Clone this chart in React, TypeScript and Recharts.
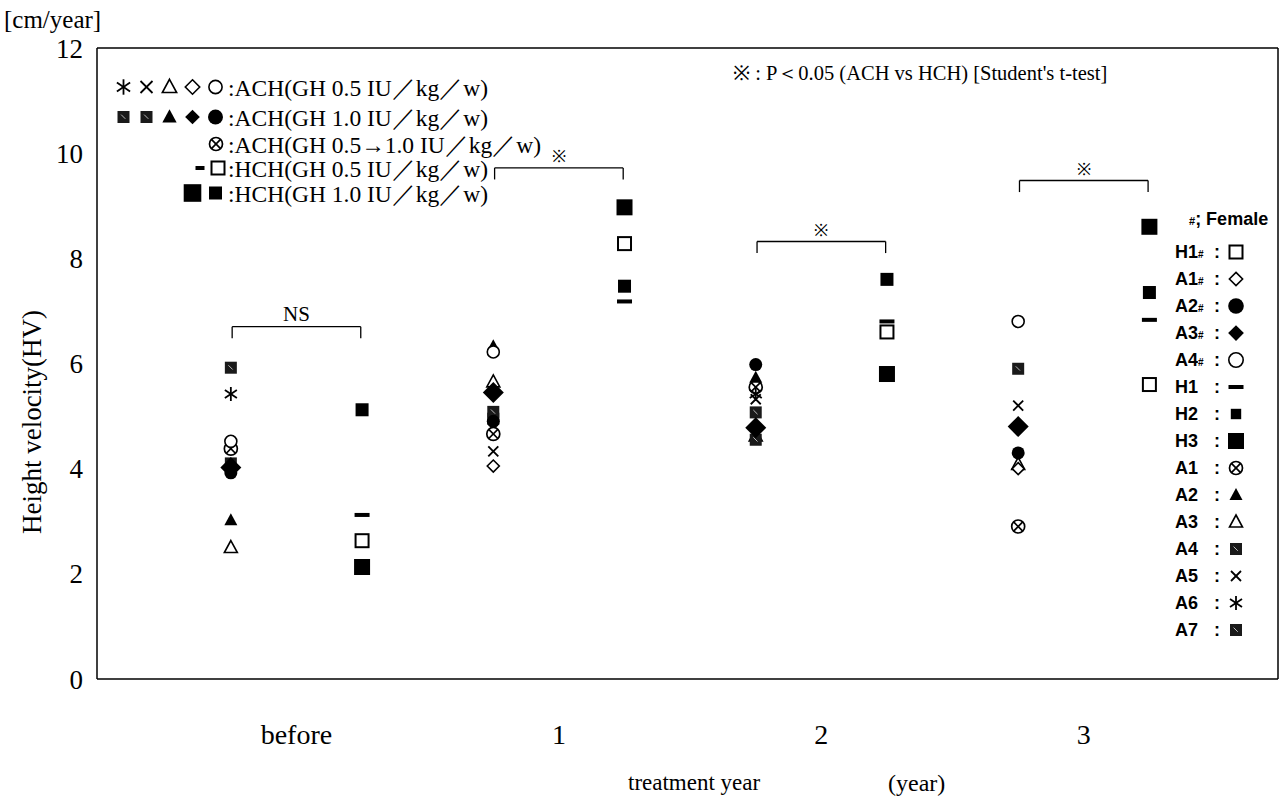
import React from "react";
import { ScatterChart, Scatter, XAxis, YAxis, ReferenceLine, Label } from "recharts";

const SERIF = "'Liberation Serif', 'Times New Roman', serif";
const SANS = "'Liberation Sans', Arial, sans-serif";
const INK = "#000";

const CATEGORIES = ["before", "1", "2", "3"];
const CATEGORY_TICKS = [1, 2, 3, 4];
const Y_TICKS = [0, 2, 4, 6, 8, 10, 12];

// ACH patients, plotted left of each category (values: before, 1, 2, 3 years)
const A1 = [4.38, 4.66, 5.55, 2.9];
const A2 = [3.02, 6.33, 5.73, null];
const A3 = [2.5, 5.65, 4.62, 4.08];
const A4 = [4.1, 4.95, 4.55, null];
const A5 = [null, 4.33, 5.32, 5.2];
const A6 = [5.42, null, 5.42, null];
const A7 = [5.92, 5.08, 5.07, 5.9];
const A1F = [null, 4.05, null, 4.0];
const A2F = [3.92, 4.9, 5.98, 4.3];
const A3F = [4.02, 5.45, 4.78, 4.8];
const A4F = [4.52, 6.22, null, 6.8];

// HCH patients, plotted right of each category
const H1 = [3.12, 7.18, 6.8, 6.83];
const H2 = [5.12, 7.47, 7.6, 7.35];
const H3 = [2.13, 8.97, 5.8, 8.6];
const H1F = [2.63, 8.28, 6.6, 5.6];

const BRACKET_LEVELS = [6.7, 9.72, 8.32, 9.48];
const BRACKET_LABELS = ["NS", "※", "※", "※"];

type Kind =
  | "asterisk" | "cross" | "triOpen" | "triFilled" | "diaOpen" | "diaFilled"
  | "circOpen" | "circFilled" | "otimes" | "hatch" | "sqOpen" | "sqSmall" | "sqBig" | "dash";

function Marker({ kind, cx, cy, scale = 1 }: { kind: Kind; cx: number; cy: number; scale?: number }) {
  const s = scale;
  switch (kind) {
    case "asterisk":
      return (
        <g stroke={INK} strokeWidth={1.8}>
          <line x1={cx} y1={cy - 7 * s} x2={cx} y2={cy + 7 * s} />
          <line x1={cx - 6 * s} y1={cy - 4 * s} x2={cx + 6 * s} y2={cy + 4 * s} />
          <line x1={cx - 6 * s} y1={cy + 4 * s} x2={cx + 6 * s} y2={cy - 4 * s} />
        </g>
      );
    case "cross":
      return (
        <g stroke={INK} strokeWidth={1.8}>
          <line x1={cx - 5 * s} y1={cy - 5 * s} x2={cx + 5 * s} y2={cy + 5 * s} />
          <line x1={cx - 5 * s} y1={cy + 5 * s} x2={cx + 5 * s} y2={cy - 5 * s} />
        </g>
      );
    case "triOpen":
    case "triFilled": {
      const pts = `${cx},${cy - 7 * s} ${cx + 6.5 * s},${cy + 5 * s} ${cx - 6.5 * s},${cy + 5 * s}`;
      return kind === "triOpen"
        ? <polygon points={pts} fill="#fff" stroke={INK} strokeWidth={1.6} />
        : <polygon points={pts} fill={INK} />;
    }
    case "diaOpen": {
      const r = 6 * s;
      return <polygon points={`${cx},${cy - r} ${cx + r},${cy} ${cx},${cy + r} ${cx - r},${cy}`} fill="#fff" stroke={INK} strokeWidth={1.6} />;
    }
    case "diaFilled": {
      const r = 10.5 * s;
      return <polygon points={`${cx},${cy - r} ${cx + r},${cy} ${cx},${cy + r} ${cx - r},${cy}`} fill={INK} />;
    }
    case "circOpen":
      return <circle cx={cx} cy={cy} r={6 * s} fill="#fff" stroke={INK} strokeWidth={1.6} />;
    case "circFilled":
      return <circle cx={cx} cy={cy} r={6.5 * s} fill={INK} />;
    case "otimes": {
      const r = 6.5 * s;
      const d = r * 0.7;
      return (
        <g stroke={INK} strokeWidth={1.7} fill="#fff">
          <circle cx={cx} cy={cy} r={r} />
          <line x1={cx - d} y1={cy - d} x2={cx + d} y2={cy + d} />
          <line x1={cx - d} y1={cy + d} x2={cx + d} y2={cy - d} />
        </g>
      );
    }
    case "hatch": {
      const h = 6 * s;
      return (
        <g>
          <rect x={cx - h} y={cy - h} width={2 * h} height={2 * h} fill="#1a1a1a" />
          <line x1={cx - h * 0.4} y1={cy - h * 0.4} x2={cx + h * 0.3} y2={cy + h * 0.3} stroke="#bbb" strokeWidth={1} />
        </g>
      );
    }
    case "sqOpen": {
      const h = 6.5 * s;
      return <rect x={cx - h} y={cy - h} width={2 * h} height={2 * h} fill="#fff" stroke={INK} strokeWidth={2} />;
    }
    case "sqSmall": {
      const h = 6.5 * s;
      return <rect x={cx - h} y={cy - h} width={2 * h} height={2 * h} fill={INK} />;
    }
    case "sqBig": {
      const h = 8 * s;
      return <rect x={cx - h} y={cy - h} width={2 * h} height={2 * h} fill={INK} />;
    }
    case "dash":
      return <rect x={cx - 7.5 * s} y={cy - 2} width={15 * s} height={4} fill={INK} />;
  }
  return null;
}

type Subject = { name: string; group: "ACH" | "HCH"; kind: Kind; values: (number | null)[] };

const SUBJECTS: Subject[] = [
  { name: "A1", group: "ACH", kind: "otimes", values: A1 },
  { name: "A2", group: "ACH", kind: "triFilled", values: A2 },
  { name: "A3", group: "ACH", kind: "triOpen", values: A3 },
  { name: "A4", group: "ACH", kind: "hatch", values: A4 },
  { name: "A5", group: "ACH", kind: "cross", values: A5 },
  { name: "A6", group: "ACH", kind: "asterisk", values: A6 },
  { name: "A7", group: "ACH", kind: "hatch", values: A7 },
  { name: "A1#", group: "ACH", kind: "diaOpen", values: A1F },
  { name: "A2#", group: "ACH", kind: "circFilled", values: A2F },
  { name: "A4#", group: "ACH", kind: "circOpen", values: A4F },
  { name: "A3#", group: "ACH", kind: "diaFilled", values: A3F },
  { name: "H1", group: "HCH", kind: "dash", values: H1 },
  { name: "H2", group: "HCH", kind: "sqSmall", values: H2 },
  { name: "H3", group: "HCH", kind: "sqBig", values: H3 },
  { name: "H1#", group: "HCH", kind: "sqOpen", values: H1F },
];

const GROUP_OFFSET = { ACH: -0.25, HCH: 0.25 };

function toPoints(s: Subject) {
  return s.values
    .map((v, i) => (v == null ? null : { x: CATEGORY_TICKS[i] + GROUP_OFFSET[s.group], y: v }))
    .filter((p) => p !== null) as { x: number; y: number }[];
}

function Sym({ kind, w = 20, scale = 1 }: { kind: Kind; w?: number; scale?: number }) {
  return (
    <svg width={w} height={22} style={{ display: "inline-block", verticalAlign: "middle" }}>
      <Marker kind={kind} cx={w / 2} cy={11} scale={scale} />
    </svg>
  );
}

const TOP_LEGEND: { syms: { kind: Kind; scale?: number }[]; text: string; top: number; gap: number }[] = [
  { syms: [{ kind: "asterisk", scale: 1.1 }, { kind: "cross", scale: 1.2 }, { kind: "triOpen", scale: 1.1 }, { kind: "diaOpen", scale: 1.2 }, { kind: "circOpen", scale: 1.1 }], text: ":ACH(GH 0.5 IU／kg／w)", top: 88, gap: 23 },
  { syms: [{ kind: "hatch" }, { kind: "hatch" }, { kind: "triFilled", scale: 1.1 }, { kind: "diaFilled", scale: 0.7 }, { kind: "circFilled", scale: 1.15 }], text: ":ACH(GH 1.0 IU／kg／w)", top: 118, gap: 23 },
  { syms: [{ kind: "otimes" }], text: ":ACH(GH 0.5→1.0 IU／kg／w)", top: 145, gap: 22 },
  { syms: [{ kind: "dash", scale: 0.6 }, { kind: "sqOpen" }], text: ":HCH(GH 0.5 IU／kg／w)", top: 169, gap: 18 },
  { syms: [{ kind: "sqBig", scale: 1.1 }, { kind: "sqSmall" }], text: ":HCH(GH 1.0 IU／kg／w)", top: 194, gap: 23 },
];
const TOP_LEGEND_TEXT_LEFT = 228;

const RIGHT_LEGEND: { label: string; fem: boolean; kind: Kind; scale?: number }[] = [
  { label: "H1", fem: true, kind: "sqOpen" },
  { label: "A1", fem: true, kind: "diaOpen", scale: 1.1 },
  { label: "A2", fem: true, kind: "circFilled", scale: 1.2 },
  { label: "A3", fem: true, kind: "diaFilled", scale: 0.75 },
  { label: "A4", fem: true, kind: "circOpen", scale: 1.2 },
  { label: "H1", fem: false, kind: "dash" },
  { label: "H2", fem: false, kind: "sqSmall", scale: 0.8 },
  { label: "H3", fem: false, kind: "sqBig" },
  { label: "A1", fem: false, kind: "otimes" },
  { label: "A2", fem: false, kind: "triFilled" },
  { label: "A3", fem: false, kind: "triOpen" },
  { label: "A4", fem: false, kind: "hatch" },
  { label: "A5", fem: false, kind: "cross" },
  { label: "A6", fem: false, kind: "asterisk" },
  { label: "A7", fem: false, kind: "hatch" },
];

const abs = (left: number, top: number, extra: React.CSSProperties = {}): React.CSSProperties => ({
  position: "absolute", left, top, whiteSpace: "nowrap", lineHeight: 1, ...extra,
});

export default function App() {
  return (
    <div style={{ position: "absolute", left: 0, top: 0, width: 1284, height: 800, background: "#fff", fontFamily: SERIF, color: INK }}>
      <ScatterChart width={1284} height={800} margin={{ top: 48, right: 6, bottom: 41, left: 17 }}>
        <XAxis
          type="number"
          dataKey="x"
          domain={[0.24, 4.74]}
          ticks={CATEGORY_TICKS}
          tickFormatter={(v: number) => CATEGORIES[CATEGORY_TICKS.indexOf(v)] ?? ""}
          height={80}
          axisLine={{ stroke: INK, strokeWidth: 1.5 }}
          tickLine={false}
          tickMargin={39}
          tick={{ fill: INK, fontSize: 28, fontFamily: SERIF }}
          allowDataOverflow
        />
        <YAxis
          type="number"
          dataKey="y"
          domain={[0, 12]}
          ticks={Y_TICKS}
          width={80}
          axisLine={{ stroke: INK, strokeWidth: 1.5 }}
          tickLine={false}
          tickSize={8}
          tickMargin={6}
          tick={{ fill: INK, fontSize: 27, fontFamily: SERIF }}
          allowDataOverflow
        />
        <ReferenceLine y={12} stroke={INK} strokeWidth={1.5} />
        <ReferenceLine x={4.74} stroke={INK} strokeWidth={1.5} />
        {BRACKET_LEVELS.map((lvl, i) => {
          const c = CATEGORY_TICKS[i];
          const l = c - 0.245;
          const r = c + 0.245;
          const drop = lvl - 0.22;
          return (
            <React.Fragment key={`br${i}`}>
              <ReferenceLine segment={[{ x: l, y: lvl }, { x: r, y: lvl }]} stroke={INK} strokeWidth={1.3} ifOverflow="visible">
                <Label value={BRACKET_LABELS[i]} position="top" offset={6} fontSize={i === 0 ? 21 : 17} fontFamily={SERIF} fill={INK} />
              </ReferenceLine>
              <ReferenceLine segment={[{ x: l, y: lvl }, { x: l, y: drop }]} stroke={INK} strokeWidth={1.3} ifOverflow="visible" />
              <ReferenceLine segment={[{ x: r, y: lvl }, { x: r, y: drop }]} stroke={INK} strokeWidth={1.3} ifOverflow="visible" />
            </React.Fragment>
          );
        })}
        {SUBJECTS.map((s) => (
          <Scatter
            key={s.name}
            name={s.name}
            data={toPoints(s)}
            isAnimationActive={false}
            shape={(p: any) => <Marker kind={s.kind} cx={p.cx} cy={p.cy} />}
          />
        ))}
      </ScatterChart>

      <div style={abs(4, 7, { fontSize: 25 })}>[cm/year]</div>
      <div style={abs(32, 422, { fontSize: 27, transform: "translate(-50%, -50%) rotate(-90deg)" })}>Height velocity(HV)</div>
      <div style={abs(628, 771, { fontSize: 23 })}>treatment year</div>
      <div style={abs(888, 771, { fontSize: 24 })}>(year)</div>

      {TOP_LEGEND.map((row, i) => (
        <div key={i} style={abs(0, row.top - 12, { width: 600, height: 24, fontSize: 23.5 })}>
          <div style={{ position: "absolute", right: 600 - TOP_LEGEND_TEXT_LEFT + 1, top: 0, display: "flex" }}>
            {row.syms.map((sy, j) => (
              <Sym key={j} kind={sy.kind} scale={sy.scale} w={row.gap} />
            ))}
          </div>
          <span style={{ position: "absolute", left: TOP_LEGEND_TEXT_LEFT, top: 1 }}>{row.text}</span>
        </div>
      ))}

      <div style={abs(733, 63, { fontSize: 20.5 })}>※ : P＜0.05 (ACH vs HCH) [Student's t-test]</div>

      <div style={abs(1189, 210, { fontSize: 18, fontFamily: SANS, fontWeight: 700 })}>
        <span style={{ fontSize: 11 }}>#</span>; Female
      </div>
      {RIGHT_LEGEND.map((row, i) => (
        <div key={i} style={abs(1175, 241 + i * 27, { fontSize: 18, fontFamily: SANS, fontWeight: 700, display: "flex", alignItems: "center", height: 22 })}>
          <span style={{ width: 39, display: "inline-block" }}>
            {row.label}
            {row.fem && <span style={{ fontSize: 10 }}>#</span>}
          </span>
          <span style={{ width: 11, display: "inline-block" }}>:</span>
          <Sym kind={row.kind} scale={row.scale} w={22} />
        </div>
      ))}
    </div>
  );
}
